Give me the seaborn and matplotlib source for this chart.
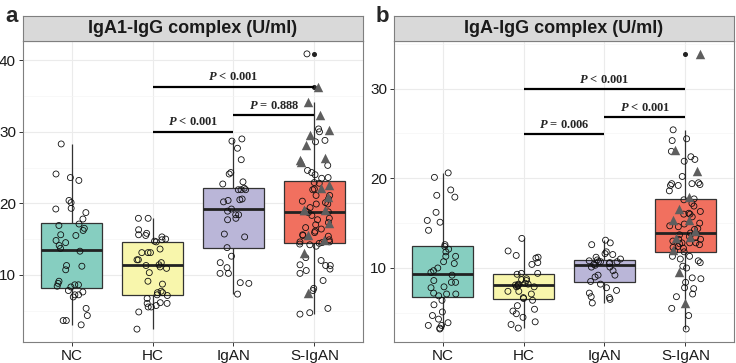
import numpy as np
import pandas as pd
import seaborn as sns
import matplotlib.pyplot as plt
from matplotlib.ticker import MultipleLocator

groups = ["NC", "HC", "IgAN", "S-IgAN"]
colors = ["#86CEC0", "#F8F6AC", "#BAB6D8", "#F1705F"]

# panel a: IgA1-IgG complex (U/ml)
a_nc = [28.3, 24.1, 23.6, 23.2, 20.4, 20.1, 19.2, 19.3, 18.7, 17.8, 17.1, 16.9, 16.5, 16.2,
        15.6, 15.5, 14.8, 14.1, 14.5, 13.7, 13.3, 11.2, 11.3, 10.7, 9.1, 8.8, 8.6, 8.6, 8.4,
        8.3, 7.8, 7.6, 7.2, 7.2, 6.9, 5.3, 4.3, 3.6, 3.6, 3.0]
a_hc = [17.9, 17.9, 16.3, 15.8, 15.6, 15.5, 15.3, 15.0, 14.9, 14.7, 14.6, 13.1, 13.1, 13.1,
        13.6, 12.1, 12.1, 11.7, 11.3, 11.4, 11.1, 10.9, 10.3, 9.1, 8.7, 7.7, 7.5, 7.5, 7.2,
        7.1, 6.7, 6.1, 6.0, 6.0, 5.7, 5.5, 5.5, 4.8, 2.4]
a_igan = [29.0, 28.7, 27.7, 26.1, 24.3, 24.1, 22.7, 23.0, 22.1, 21.9, 21.9, 21.9, 20.5, 20.2,
          20.6, 20.4, 19.2, 18.9, 18.4, 18.4, 17.9, 17.7, 15.7, 15.3, 13.8, 12.6, 11.7, 11.0,
          10.2, 10.2, 8.9, 8.8, 7.3]
a_sigan = [40.9, 30.0, 30.4, 28.8, 28.6, 25.3, 24.3, 24.6, 24.0, 23.6, 23.5, 22.9, 22.0, 22.8,
           21.9, 21.1, 21.1, 20.6, 20.1, 20.3, 19.9, 19.4, 19.9, 18.7, 18.8, 18.9, 18.3, 17.9,
           17.7, 17.3, 17.0, 16.6, 16.4, 16.1, 15.9, 15.6, 15.5, 15.4, 14.9, 14.6, 14.2, 14.3,
           14.0, 14.5, 14.4, 14.6, 12.4, 12.0, 11.4, 11.3, 11.3, 10.6, 10.2, 10.8, 9.2, 7.8,
           8.1, 5.3, 4.7, 4.5]
a_sigan_tri = [36.2, 34.1, 32.3, 30.3, 29.6, 28.1, 26.1, 26.4, 25.8, 22.5, 22.1, 20.9, 19.1,
               19.0, 19.0, 17.3, 15.5, 14.8, 13.1, 7.4]

# panel b: IgA-IgG complex (U/ml)
b_nc = [20.6, 20.1, 18.7, 17.9, 18.1, 16.2, 15.3, 15.1, 14.2, 12.6, 12.1, 12.4, 11.8, 11.3,
        11.3, 10.7, 10.5, 10.0, 9.5, 9.7, 9.2, 8.6, 8.4, 8.4, 7.9, 7.8, 7.1, 6.9, 7.1, 7.2,
        5.9, 6.4, 5.1, 4.7, 4.3, 3.9, 3.6, 3.6, 3.3, 3.2]
b_hc = [13.3, 11.9, 11.4, 11.2, 11.1, 10.6, 10.4, 9.4, 9.4, 9.3, 8.8, 8.6, 8.7, 8.1, 8.0,
        8.2, 7.9, 8.2, 7.4, 8.1, 7.9, 8.3, 7.4, 7.1, 6.6, 6.4, 6.7, 5.8, 5.4, 5.2, 4.9, 4.5,
        4.0, 3.7, 3.3]
b_igan = [13.1, 12.8, 12.6, 11.5, 11.8, 11.6, 10.7, 10.7, 10.7, 11.0, 10.4, 10.3, 10.1, 9.7,
          9.2, 9.2, 9.0, 8.5, 8.2, 7.8, 7.5, 7.2, 6.8, 6.7, 6.5, 6.1, 10.1, 10.8, 10.5, 10.9,
          11.2, 10.6]
b_sigan = [25.4, 24.4, 24.2, 23.0, 22.4, 22.1, 21.9, 20.2, 19.4, 19.4, 19.2, 19.5, 19.3, 19.2,
           18.6, 17.7, 17.6, 16.9, 16.0, 16.0, 15.7, 16.1, 14.7, 14.9, 14.4, 14.3, 13.9, 13.5,
           13.4, 13.2, 12.8, 12.8, 12.8, 12.7, 11.9, 12.4, 12.2, 11.3, 11.3, 10.8, 11.0, 10.6,
           10.2, 10.0, 8.8, 8.9, 8.4, 7.7, 7.8, 7.1, 6.8, 5.5, 4.7, 3.2, 11.8, 12.3, 12.6,
           13.0, 13.2, 13.7, 14.6, 15.0, 16.3, 17.2]
b_sigan_tri = [33.9, 23.1, 20.8, 17.9, 16.6, 15.4, 15.4, 14.1, 13.5, 12.0, 13.3, 9.5, 6.1]

# brackets: (group from, group to, height, label)
a_brackets = [(1, 3, 36.3, "< 0.001"), (2, 3, 32.3, "= 0.888"), (1, 2, 30.0, "< 0.001")]
b_brackets = [(1, 3, 29.9, "< 0.001"), (2, 3, 26.8, "< 0.001"), (1, 2, 24.9, "= 0.006")]

sns.set_theme(style="white")
plt.rcParams["font.family"] = ["Liberation Sans", "DejaVu Sans"]
plt.rcParams["mathtext.fontset"] = "custom"
plt.rcParams["mathtext.it"] = "Liberation Serif:italic:bold"
plt.rcParams["mathtext.rm"] = "Liberation Serif:bold"

np.random.seed(11)


def make_frame(nc, hc, igan, sigan, sigan_tri):
    rows = []
    for g, vals in zip(groups, [nc, hc, igan, sigan]):
        rows += [(g, v, "circle") for v in vals]
    rows += [("S-IgAN", v, "triangle") for v in sigan_tri]
    return pd.DataFrame(rows, columns=["group", "value", "shape"])


def draw_panel(fig, left, df, title, letter, ylim, yticks, brackets):
    W, H = 736, 363
    ax = fig.add_axes([left / W, 21 / H, 340 / W, 301 / H])
    strip = fig.add_axes([left / W, 322 / H, 340 / W, 25 / H])

    sns.boxplot(data=df, x="group", y="value", hue="group", order=groups, hue_order=groups,
                palette=colors, legend=False, saturation=1, width=0.75, linecolor="#333333",
                linewidth=0.9, ax=ax, zorder=2,
                flierprops=dict(marker="o", markersize=2.6, markerfacecolor="#222222",
                                markeredgecolor="#222222"),
                medianprops=dict(color="#222222", linewidth=2.0),
                capprops=dict(visible=False))
    circ = df[df["shape"] == "circle"]
    tri = df[df["shape"] == "triangle"]
    sns.stripplot(data=circ, x="group", y="value", order=groups, jitter=0.2, size=4.3,
                  facecolor="none", edgecolor="#111111", linewidth=0.6, ax=ax, zorder=3)
    sns.stripplot(data=tri, x="group", y="value", order=groups, jitter=0.2, size=6.8,
                  marker="^", color="#5E5E5E", linewidth=0, ax=ax, zorder=4)

    for x1, x2, y, lab in brackets:
        ax.plot([x1, x2], [y, y], color="black", lw=1.6, zorder=5, solid_capstyle="butt")
        ax.annotate(r"$\mathit{P}$ " + lab, xy=((x1 + x2) / 2, y), xytext=(0, 2.5),
                    textcoords="offset points", ha="center", va="bottom", fontsize=9,
                    family="Liberation Serif", fontweight="bold", zorder=6)

    ax.set_xlim(-0.6, 3.6)
    ax.set_ylim(*ylim)
    ax.set_yticks(yticks)
    ax.yaxis.set_minor_locator(MultipleLocator(5))
    ax.grid(True, which="major", color="#EBEBEB", lw=0.8)
    ax.grid(True, which="minor", axis="y", color="#F5F5F5", lw=0.5)
    ax.set_axisbelow(True)
    ax.set_xlabel("")
    ax.set_ylabel("")
    ax.tick_params(which="major", length=3, width=0.7, color="#333333", labelsize=11,
                   labelcolor="#1A1A1A", pad=2, left=True, bottom=True)
    ax.tick_params(which="minor", length=0)
    for sp in ax.spines.values():
        sp.set_color("#7F7F7F")
        sp.set_linewidth(0.8)

    strip.set_facecolor("#D9D9D9")
    strip.set_xticks([])
    strip.set_yticks([])
    for sp in strip.spines.values():
        sp.set_color("#7F7F7F")
        sp.set_linewidth(0.8)
    strip.text(0.5, 0.5, title, ha="center", va="center", fontsize=13, fontweight="bold",
               color="#1A1A1A", transform=strip.transAxes)

    fig.text((left - 18) / W, 1 - 22 / H, letter, ha="left", va="baseline", fontsize=16,
             fontweight="bold")
    return ax


fig = plt.figure(figsize=(7.36, 3.63), dpi=100)
df_a = make_frame(a_nc, a_hc, a_igan, a_sigan, a_sigan_tri)
df_b = make_frame(b_nc, b_hc, b_igan, b_sigan, b_sigan_tri)
draw_panel(fig, 23, df_a, "IgA1-IgG complex (U/ml)", "a", (0.6, 42.7), [10, 20, 30, 40], a_brackets)
draw_panel(fig, 394, df_b, "IgA-IgG complex (U/ml)", "b", (1.75, 35.3), [10, 20, 30], b_brackets)

fig.savefig("out.png", dpi=100)
